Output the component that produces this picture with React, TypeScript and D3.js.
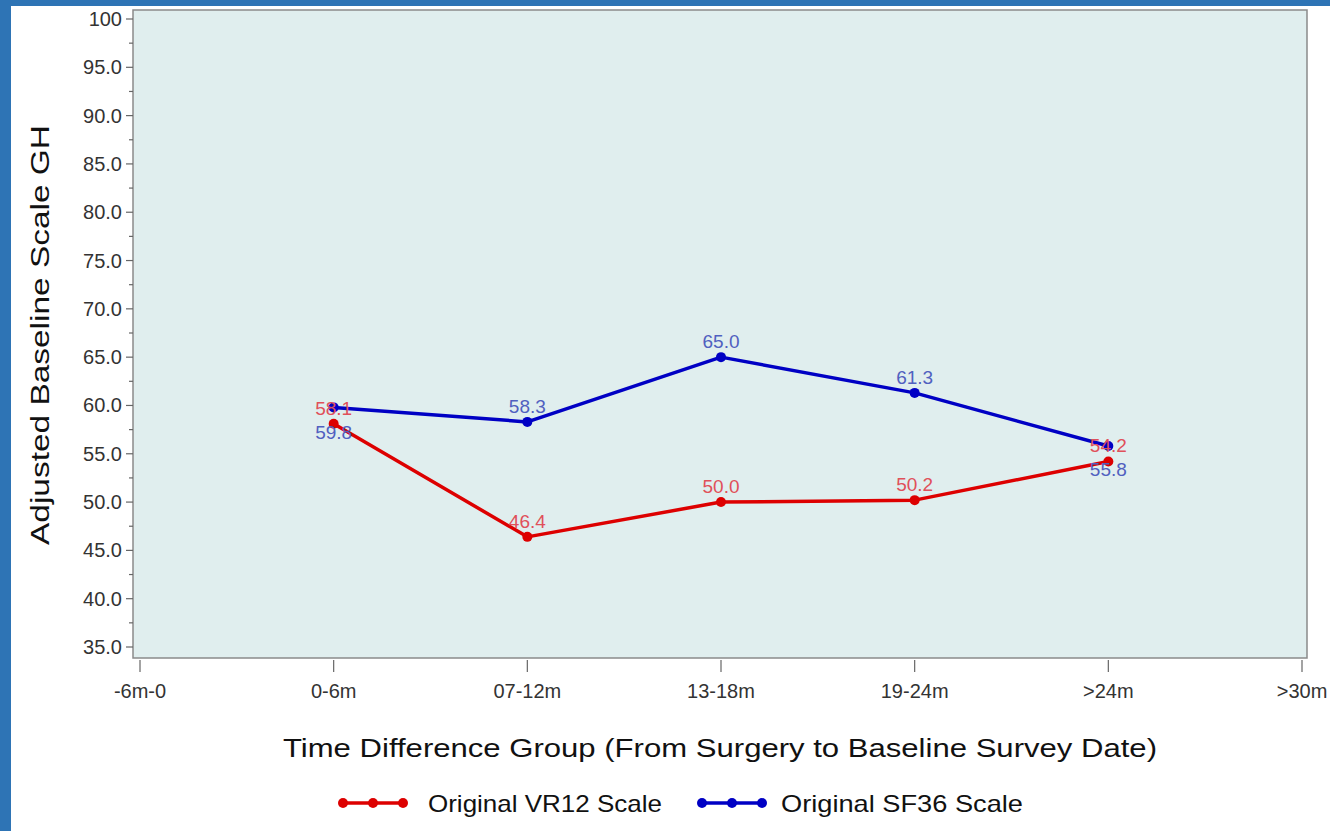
import React from "react";
import * as d3 from "d3";

const categories = ["-6m-0", "0-6m", "07-12m", "13-18m", "19-24m", ">24m", ">30m"];
const dataCategories = ["0-6m", "07-12m", "13-18m", "19-24m", ">24m"];
const vr12Values = [58.1, 46.4, 50.0, 50.2, 54.2];
const sf36Values = [59.8, 58.3, 65.0, 61.3, 55.8];
const yTicks = [35, 40, 45, 50, 55, 60, 65, 70, 75, 80, 85, 90, 95, 100];
const yMinorTicks = [37.5, 42.5, 47.5, 52.5, 57.5, 62.5, 67.5, 72.5, 77.5, 82.5, 87.5, 92.5, 97.5];
const seriesNames = ["Original VR12 Scale", "Original SF36 Scale"];

const W = 1330;
const H = 831;
const FONT = "'Liberation Sans', Arial, sans-serif";

const series = [
  { name: seriesNames[0], values: vr12Values, line: "#dd0000", label: "#e0505a" },
  { name: seriesNames[1], values: sf36Values, line: "#0000c4", label: "#5060c0" },
];

export default function App() {
  const frame = { left: 133, right: 1307, top: 10, bottom: 658 };
  const x = d3.scalePoint<string>().domain(categories).range([140, 1302]);
  const y = d3.scaleLinear().domain([35, 100]).range([647, 19]);
  const line = d3
    .line<[string, number]>()
    .x((d) => x(d[0]) as number)
    .y((d) => y(d[1]));

  const fmt = (v: number) => (v === 100 ? "100" : v.toFixed(1));

  // label placement: red above its point; blue above unless colliding, then below
  const labels: { x: number; y: number; text: string; color: string }[] = [];
  dataCategories.forEach((c, i) => {
    const px = x(c) as number;
    const yr = y(vr12Values[i]);
    const yb = y(sf36Values[i]);
    const close = Math.abs(yr - yb) < 30;
    labels.push({ x: px, y: yr - 9, text: vr12Values[i].toFixed(1), color: series[0].label });
    labels.push({
      x: px,
      y: close ? Math.max(yr, yb) + 15 : yb - 9,
      text: sf36Values[i].toFixed(1),
      color: series[1].label,
    });
  });

  const legendItems = [
    { sx: 343, tx: 428, tl: 234 },
    { sx: 702, tx: 781, tl: 242 },
  ];

  return (
    <svg
      width={W}
      height={H}
      style={{ position: "absolute", left: 0, top: 0, background: "#ffffff" }}
      fontFamily={FONT}
    >
      <rect x={0} y={0} width={W} height={H} fill="#ffffff" />
      <rect x={0} y={0} width={W} height={6} fill="#2e74b5" />
      <rect x={0} y={0} width={11} height={H} fill="#2e74b5" />

      {/* plot background & frame */}
      <rect
        x={frame.left}
        y={frame.top}
        width={frame.right - frame.left}
        height={frame.bottom - frame.top}
        fill="#e0eeee"
        stroke="#8a8a8a"
        strokeWidth={1.5}
      />

      {/* y axis ticks */}
      {yTicks.map((t) => (
        <g key={"yt" + t}>
          <line x1={frame.left - 7} x2={frame.left} y1={y(t)} y2={y(t)} stroke="#666" strokeWidth={1.2} />
          <text
            x={frame.left - 11}
            y={y(t) + 7}
            textAnchor="end"
            fontSize={20}
            fill="#333"
          >
            {fmt(t)}
          </text>
        </g>
      ))}
      {yMinorTicks.map((t) => (
        <line
          key={"ym" + t}
          x1={frame.left - 4}
          x2={frame.left}
          y1={y(t)}
          y2={y(t)}
          stroke="#666"
          strokeWidth={1.2}
        />
      ))}

      {/* x axis ticks */}
      {categories.map((c) => (
        <g key={"xt" + c}>
          <line
            x1={x(c) as number}
            x2={x(c) as number}
            y1={frame.bottom + 2}
            y2={frame.bottom + 14}
            stroke="#666"
            strokeWidth={1.2}
          />
          <text x={x(c) as number} y={frame.bottom + 40} textAnchor="middle" fontSize={20} fill="#333">
            {c}
          </text>
        </g>
      ))}

      {/* series */}
      {series.map((s) => {
        const pts: [string, number][] = dataCategories.map((c, i) => [c, s.values[i]]);
        return (
          <g key={s.name}>
            <path d={line(pts) ?? ""} fill="none" stroke={s.line} strokeWidth={3.5} strokeLinejoin="round" />
            {pts.map((p) => (
              <circle key={p[0]} cx={x(p[0]) as number} cy={y(p[1])} r={5} fill={s.line} />
            ))}
          </g>
        );
      })}

      {/* data labels */}
      {labels.map((l, i) => (
        <text key={"lb" + i} x={l.x} y={l.y} textAnchor="middle" fontSize={19} fill={l.color}>
          {l.text}
        </text>
      ))}

      {/* axis titles */}
      <text
        x={720}
        y={757}
        textAnchor="middle"
        fontSize={26}
        fill="#111"
        textLength={874}
        lengthAdjust="spacingAndGlyphs"
      >
        Time Difference Group (From Surgery to Baseline Survey Date)
      </text>
      <text
        transform="translate(49,335) rotate(-90)"
        textAnchor="middle"
        fontSize={26}
        fill="#111"
        textLength={420}
        lengthAdjust="spacingAndGlyphs"
      >
        Adjusted Baseline Scale GH
      </text>

      {/* legend */}
      {series.map((s, i) => {
        const it = legendItems[i];
        const ly = 803;
        return (
          <g key={"lg" + i}>
            <line x1={it.sx} x2={it.sx + 60} y1={ly} y2={ly} stroke={s.line} strokeWidth={3.5} />
            {[0, 30, 60].map((dx) => (
              <circle key={dx} cx={it.sx + dx} cy={ly} r={5} fill={s.line} />
            ))}
            <text
              x={it.tx}
              y={ly + 9}
              fontSize={24}
              fill="#111"
              textLength={it.tl}
              lengthAdjust="spacingAndGlyphs"
            >
              {s.name}
            </text>
          </g>
        );
      })}
    </svg>
  );
}
